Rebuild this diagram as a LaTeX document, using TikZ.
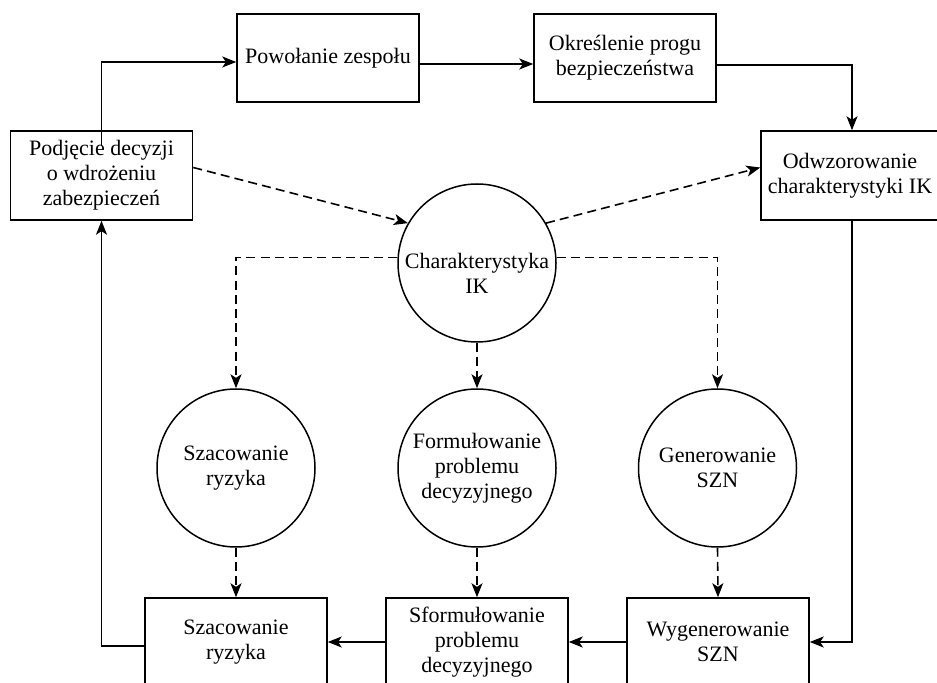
\documentclass[tikz,border=0pt]{standalone}
\usepackage{fontspec}
\setmainfont{Liberation Serif}
\newfontfamily\diagfont{Liberation Serif}
\usetikzlibrary{arrows.meta,calc}

\begin{document}
\begin{tikzpicture}[x=0.5pt,y=-0.5pt,
  every node/.style={font=\diagfont\fontsize{11pt}{12.5pt}\selectfont, align=center},
  box/.style={draw, line width=0.75pt, rectangle, minimum width=91pt, minimum height=44pt, inner sep=1pt},
  circ/.style={draw, line width=0.75pt, circle, minimum size=79pt, inner sep=0pt},
  arr/.style={line width=0.8pt, -{Stealth[length=7pt,width=5.5pt,inset=1.8pt]}},
  darr/.style={arr, dash pattern=on 4.5pt off 2.6pt}
]
\clip (0,0) rectangle (937,683);
\fill[white] (0,0) rectangle (937,683);

% top row of process steps
\node[box] (pow) at (328,58) {Powołanie zespołu};
\node[box] (okr) at (625,58) {Określenie progu\\bezpieczeństwa};
\node[box, minimum height=44.5pt] (pod) at (101.5,175.5) {Podjęcie decyzji\\o wdrożeniu\\zabezpieczeń};
\node[box, minimum width=89pt, minimum height=44.5pt] (odw) at (850,175.5) {Odwzorowanie\\charakterystyki IK};

% central characteristic and the three analyses
\node[circ] (ch) at (477,263) {};
\node (chtxt) at (477,273) {Charakterystyka\\IK};
\node[circ] (sz) at (236,468) {Szacowanie\\ryzyka};
\node[circ] (fo) at (477,468) {Formułowanie\\problemu\\decyzyjnego};
\node[circ] (ge) at (717.5,468) {Generowanie\\SZN};

% bottom row of results
\node[box] (szb) at (236,642) {Szacowanie\\ryzyka};
\node[box] (sfb) at (477,642) {Sformułowanie\\problemu\\decyzyjnego};
\node[box] (wyg) at (718,642) {Wygenerowanie\\SZN};

% main flow
\draw[arr] ([yshift=-8pt]pod.north) |- ([yshift=-2pt]pow.west);
\draw[arr] ([yshift=-3pt]pow.east) -- ([yshift=-3pt]okr.west);
\draw[arr] ([yshift=-3.5pt]okr.east) -| ([xshift=1pt]odw.north);
\draw[arr] ([xshift=1pt]odw.south) |- (wyg.east);
\draw[arr] (wyg.west) -- (sfb.east);
\draw[arr] (sfb.west) -- (szb.east);
\draw[arr] ([yshift=-2pt]szb.west) -| (pod.south);

% information flow
\draw[darr] ([yshift=4pt]pod.east) -- (ch.150);
\draw[darr] (ch.30) -- ([yshift=4pt]odw.west);
\draw[darr] (ch.176) -| (sz.north);
\draw[darr] (ch.4) -| (ge.north);
\draw[darr] (ch.south) -- (fo.north);
\draw[darr] (sz.south) -- (szb.north);
\draw[darr] (fo.south) -- (sfb.north);
\draw[darr] (ge.south) -- (wyg.north);
\end{tikzpicture}
\end{document}
